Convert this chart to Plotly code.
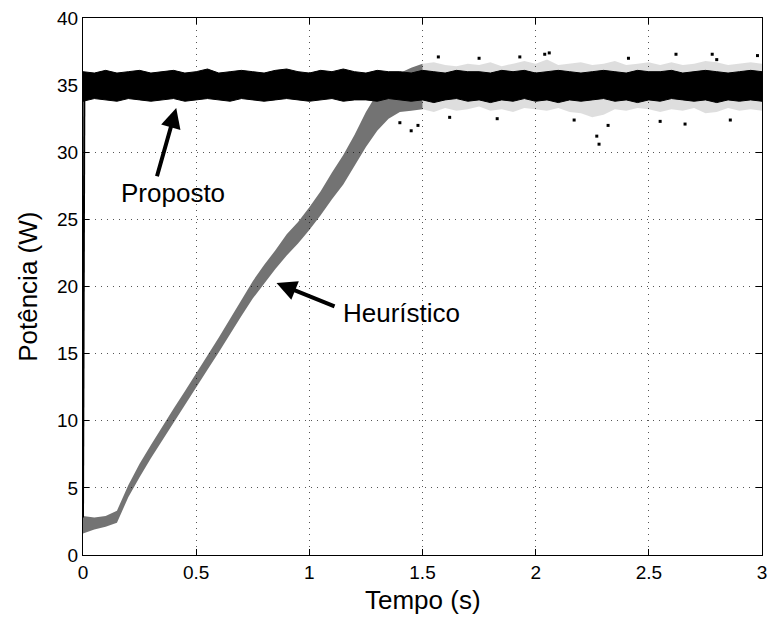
import plotly.graph_objects as go

# ---- data (time in s, power in W) ----
T = [0.00, 0.05, 0.10, 0.15, 0.20, 0.25, 0.30, 0.35, 0.40, 0.45,
     0.50, 0.55, 0.60, 0.65, 0.70, 0.75, 0.80, 0.85, 0.90, 0.95,
     1.00, 1.05, 1.10, 1.15, 1.20, 1.25, 1.30, 1.35, 1.40, 1.45,
     1.50, 1.55, 1.60, 1.65, 1.70, 1.75, 1.80, 1.85, 1.90, 1.95,
     2.00, 2.05, 2.10, 2.15, 2.20, 2.25, 2.30, 2.35, 2.40, 2.45,
     2.50, 2.55, 2.60, 2.65, 2.70, 2.75, 2.80, 2.85, 2.90, 2.95, 3.00]

# Heuristico (dotted, noisy) lower / upper envelope
H_LO = [1.6, 1.9, 2.1, 2.4, 4.3, 5.8, 7.2, 8.6, 9.9, 11.2,
        12.5, 13.8, 15.1, 16.4, 17.8, 19.1, 20.2, 21.3, 22.3, 23.2,
        24.2, 25.3, 26.5, 27.6, 29.0, 30.4, 31.6, 32.5, 33.0, 33.1,
        33.2, 33.0, 33.3, 33.1, 33.2, 33.4, 33.1, 33.2, 33.0, 33.3,
        33.2, 33.1, 33.3, 33.0, 32.9, 32.6, 32.8, 33.2, 33.1, 33.3,
        33.2, 33.0, 33.2, 33.1, 33.3, 32.9, 33.0, 33.3, 33.1, 33.2, 33.1]
H_HI = [2.9, 2.8, 2.9, 3.3, 5.2, 6.8, 8.2, 9.6, 10.9, 12.2,
        13.5, 14.8, 16.2, 17.6, 19.0, 20.4, 21.6, 22.7, 23.9, 24.8,
        25.9, 27.1, 28.5, 29.8, 31.3, 33.0, 34.4, 35.3, 35.9, 36.3,
        36.6, 36.7, 36.5, 36.4, 36.6, 36.5, 36.7, 36.4, 36.6, 36.8,
        36.6, 36.9, 36.5, 36.6, 36.7, 36.5, 36.6, 36.8, 36.5, 36.6,
        36.7, 36.5, 36.7, 36.5, 36.6, 36.8, 36.7, 36.5, 36.6, 36.7, 36.6]

# isolated Heuristico / Proposto excursions
OUT_T = [1.40, 1.45, 1.48, 1.57, 1.62, 1.75, 1.83, 1.93, 2.04, 2.06, 2.17,
         2.27, 2.28, 2.32, 2.41, 2.55, 2.62, 2.66, 2.78, 2.80, 2.86, 2.98]
OUT_Y = [32.2, 31.6, 32.0, 37.1, 32.6, 37.0, 32.5, 37.1, 37.3, 37.4, 32.4,
         31.2, 30.6, 32.0, 37.0, 32.3, 37.3, 32.1, 37.3, 36.9, 32.4, 37.2]

# Proposto (solid, noisy) lower / upper envelope
P_HI = [36.0, 35.9, 36.1, 35.9, 36.0, 36.1, 35.9, 36.0, 36.1, 35.9,
        36.0, 36.2, 35.9, 36.0, 36.1, 36.0, 35.9, 36.1, 36.2, 36.0,
        35.9, 36.1, 36.0, 36.2, 36.0, 35.9, 36.1, 36.0, 36.0, 35.9,
        36.1, 36.0, 35.9, 36.1, 36.0, 36.0, 35.9, 36.1, 36.0, 36.1,
        35.9, 36.0, 36.1, 36.0, 35.9, 36.0, 36.1, 36.0, 35.9, 36.1,
        36.0, 36.0, 36.1, 35.9, 36.0, 36.1, 36.0, 35.9, 36.0, 36.1, 36.0]
P_LO = [33.8, 34.0, 33.9, 33.8, 34.0, 33.9, 33.8, 33.9, 34.0, 33.8,
        33.9, 34.0, 33.9, 33.8, 34.0, 33.9, 33.8, 33.9, 34.0, 33.9,
        33.8, 33.9, 34.0, 33.8, 33.9, 33.9, 33.8, 34.0, 33.9, 33.8,
        33.9, 33.7, 33.9, 34.0, 33.8, 33.9, 33.7, 33.9, 33.8, 34.0,
        33.8, 33.9, 33.7, 33.9, 33.8, 33.9, 34.0, 33.8, 33.9, 33.7,
        33.9, 33.8, 34.0, 33.9, 33.8, 33.9, 33.7, 33.9, 33.8, 33.9, 33.8]
# initial rise of Proposto
P_START_T = [0.0, 0.006]
P_START_Y = [2.8, 34.5]

XTICKS = [0, 0.5, 1, 1.5, 2, 2.5, 3]
XTICKTEXT = ["0", "0.5", "1", "1.5", "2", "2.5", "3"]
YTICKS = [0, 5, 10, 15, 20, 25, 30, 35, 40]

FONT = "Liberation Sans, Arial, Helvetica, sans-serif"

fig = go.Figure()

def band(ts, lo, hi, color, name):
    return go.Scatter(x=list(ts) + list(ts)[::-1], y=list(hi) + list(lo)[::-1],
                      fill="toself", fillcolor=color, mode="lines",
                      line=dict(width=0), hoverinfo="skip", name=name, showlegend=False)

# Heuristico ramp (darker) and plateau (sparser dots -> lighter)
fig.add_trace(band(T[:31], H_LO[:31], H_HI[:31], "rgba(0,0,0,0.55)", "Heurístico"))
fig.add_trace(band(T[30:], H_LO[30:], H_HI[30:], "rgba(0,0,0,0.13)", "Heurístico"))
fig.add_trace(go.Scatter(x=OUT_T, y=OUT_Y, mode="markers",
                         marker=dict(symbol="square", size=3, color="black"),
                         showlegend=False, hoverinfo="skip"))
# Proposto
fig.add_trace(go.Scatter(x=P_START_T, y=P_START_Y, mode="lines",
                         line=dict(color="black", width=2), showlegend=False))
fig.add_trace(go.Scatter(x=T + T[::-1], y=P_HI + P_LO[::-1], fill="toself",
                         fillcolor="black", mode="lines", line=dict(color="black", width=1),
                         showlegend=False, name="Proposto"))

axis_common = dict(showline=True, linecolor="black", linewidth=1, mirror="ticks",
                   ticks="inside", ticklen=6, tickcolor="black", tickwidth=1,
                   showgrid=True, gridcolor="#555", griddash="1px,5px", gridwidth=1,
                   zeroline=False, ticklabeloverflow="allow",
                   tickfont=dict(family=FONT, size=19, color="black"))

fig.update_xaxes(range=[0, 3], tickvals=XTICKS, ticktext=XTICKTEXT, **axis_common)
fig.update_yaxes(range=[0, 40], tickvals=YTICKS, **axis_common)

ann_font = dict(family=FONT, size=26, color="black")
fig.update_layout(
    width=772, height=618,
    margin=dict(l=83, r=5, t=18, b=63),
    paper_bgcolor="white", plot_bgcolor="white",
    showlegend=False,
    annotations=[
        dict(text="Tempo (s)", xref="paper", yref="paper", x=0.5, y=-0.084,
             xanchor="center", yanchor="middle", showarrow=False, font=ann_font),
        dict(text="Potência (W)", xref="paper", yref="paper", x=-0.082, y=0.5,
             xanchor="center", yanchor="middle", textangle=-90, showarrow=False, font=ann_font),
        dict(text="Proposto", x=0.397, y=26.96, xref="x", yref="y", showarrow=False,
             font=ann_font, xanchor="center", yanchor="middle"),
        dict(text="Heurístico", x=1.408, y=18.03, xref="x", yref="y", showarrow=False,
             font=ann_font, xanchor="center", yanchor="middle"),
        dict(text="", x=0.412, y=33.3, ax=0.325, ay=28.1, xref="x", yref="y",
             axref="x", ayref="y", showarrow=True, arrowhead=2, arrowsize=1,
             arrowwidth=4, arrowcolor="black"),
        dict(text="", x=0.855, y=20.26, ax=1.118, ay=18.47, xref="x", yref="y",
             axref="x", ayref="y", showarrow=True, arrowhead=2, arrowsize=1,
             arrowwidth=4, arrowcolor="black"),
    ],
)

fig.write_html("out.html")
